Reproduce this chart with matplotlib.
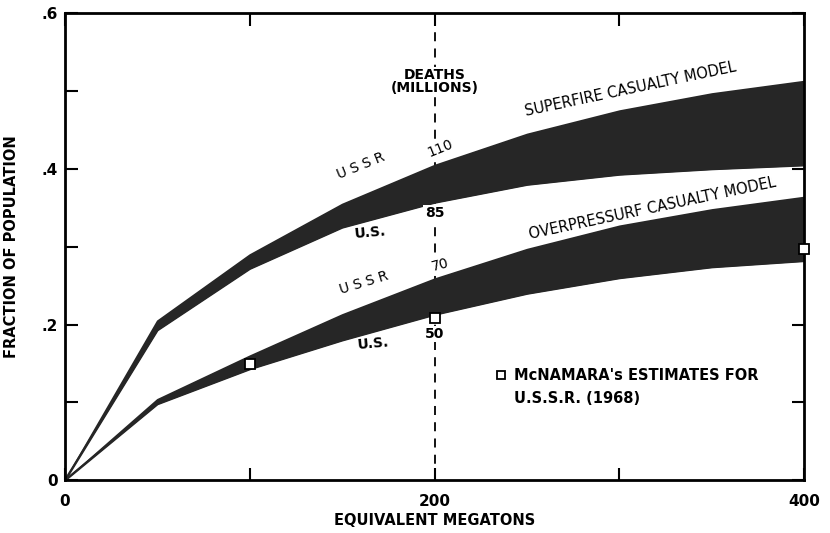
"""Casualty fraction vs. equivalent megatons: superfire vs. overpressure bands."""
import matplotlib
matplotlib.use("Agg")
import matplotlib.pyplot as plt

# megatons sampled along the curves
mt = [0, 50, 100, 150, 200, 250, 300, 350, 400]

# superfire casualty model band (USSR upper edge, U.S. lower edge)
fire_ussr = [0, 0.205, 0.29, 0.355, 0.405, 0.445, 0.475, 0.497, 0.513]
fire_us = [0, 0.193, 0.272, 0.325, 0.357, 0.38, 0.393, 0.40, 0.405]

# overpressure casualty model band
over_ussr = [0, 0.104, 0.16, 0.213, 0.259, 0.297, 0.327, 0.348, 0.364]
over_us = [0, 0.098, 0.143, 0.18, 0.213, 0.24, 0.26, 0.274, 0.282]

# McNamara's estimates for U.S.S.R. (1968)
mcn_mt = [100, 200, 400]
mcn_frac = [0.150, 0.208, 0.297]

xticks = [0, 100, 200, 300, 400]
xticklabels = ["0", "", "200", "", "400"]
yticks = [0, 0.1, 0.2, 0.3, 0.4, 0.5, 0.6]
yticklabels = ["0", "", ".2", "", ".4", "", ".6"]

BAND = "#262626"

fig = plt.figure(figsize=(8.3, 5.33), dpi=100)
ax = fig.add_axes([0.078, 0.099, 0.891, 0.876])
ax.set_xlim(0, 400)
ax.set_ylim(0, 0.6)

ax.fill_between(mt, fire_us, fire_ussr, color=BAND, lw=1.2, zorder=2)
ax.fill_between(mt, over_us, over_ussr, color=BAND, lw=1.2, zorder=2)
ax.plot(mt, fire_us, color=BAND, lw=1.3, zorder=2)
ax.plot(mt, over_us, color=BAND, lw=1.3, zorder=2)

# dashed reference at 200 MT
ax.axvline(200, color="black", lw=1.3, ls=(0, (5, 4)), zorder=1)

ax.plot(mcn_mt, mcn_frac, ls="none", marker="s", ms=6.5, mfc="white", mec="black",
        mew=1.3, zorder=5, clip_on=False)

for s in ax.spines.values():
    s.set_linewidth(2)
ax.set_xticks(xticks)
ax.set_xticklabels(xticklabels)
ax.set_yticks(yticks)
ax.set_yticklabels(yticklabels)
ax.tick_params(direction="in", length=9, width=1.5, top=True, right=True, labelsize=11)
ax.tick_params(axis="x", pad=10)
ax.tick_params(axis="y", pad=5)
for lab in ax.get_xticklabels() + ax.get_yticklabels():
    lab.set_fontweight("bold")

ax.set_xlabel("EQUIVALENT MEGATONS", fontsize=10.5, fontweight="bold", labelpad=3)
ax.set_ylabel("FRACTION OF POPULATION", fontsize=10.5, fontweight="bold", labelpad=16)

wb = dict(boxstyle="square,pad=0.1", fc="white", ec="none")

# death counts along the 200 MT line
ax.text(200, 0.512, "DEATHS\n(MILLIONS)", ha="center", va="center", fontsize=10,
        fontweight="bold", linespacing=0.9, bbox=wb, zorder=4)
ax.text(203, 0.427, "110", ha="center", va="center", fontsize=10, rotation=22,
        bbox=wb, zorder=4)
ax.text(200, 0.343, "85", ha="center", va="center", fontsize=10, fontweight="bold",
        bbox=wb, zorder=4)
ax.text(203, 0.277, "70", ha="center", va="center", fontsize=10, rotation=15,
        bbox=wb, zorder=4)
ax.text(200, 0.188, "50", ha="center", va="center", fontsize=10, fontweight="bold",
        bbox=wb, zorder=4)

# country labels
ax.text(160, 0.404, "U S S R", ha="center", va="center", fontsize=10, rotation=22)
ax.text(165, 0.318, "U.S.", ha="center", va="center", fontsize=10, fontweight="bold",
        rotation=5)
ax.text(162, 0.254, "U S S R", ha="center", va="center", fontsize=10, rotation=17)
ax.text(167, 0.175, "U.S.", ha="center", va="center", fontsize=10, fontweight="bold",
        rotation=5)

# model labels
ax.text(306, 0.502, "SUPERFIRE CASUALTY MODEL", ha="center", va="center",
        fontsize=10.5, rotation=12)
ax.text(318, 0.349, "OVERPRESSURF CASUALTY MODEL", ha="center", va="center",
        fontsize=10.5, rotation=12)

# legend note
ax.plot([236], [0.135], ls="none", marker="s", ms=6, mfc="white", mec="black", mew=1.3)
ax.text(243, 0.135, "McNAMARA's ESTIMATES FOR", ha="left", va="center",
        fontsize=10.5, fontweight="bold")
ax.text(243, 0.105, "U.S.S.R. (1968)", ha="left", va="center",
        fontsize=10.5, fontweight="bold")

fig.savefig("out.png", dpi=100)
